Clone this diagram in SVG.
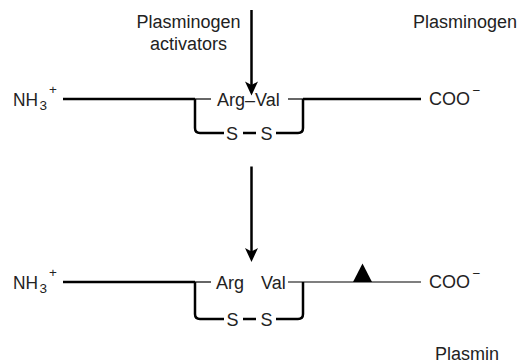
<svg xmlns="http://www.w3.org/2000/svg" width="521" height="364" viewBox="0 0 521 364">
<style>
text{font-family:"Liberation Sans",Arial,sans-serif;font-size:18px;fill:#222}
.sm{font-size:13.5px}
.thick{stroke:#000;stroke-width:2.5;fill:none}
.thin{stroke:#000;stroke-width:1.2;fill:none}
.head{fill:#000}
</style>
<g id="labels">
<text x="188.5" y="28" text-anchor="middle">Plasminogen</text>
<text x="188.5" y="50" text-anchor="middle">activators</text>
<text x="413" y="28">Plasminogen</text>
<text x="435" y="359.5">Plasmin</text>
</g>
<g id="plasminogen">
<text x="13" y="106" textLength="25" lengthAdjust="spacingAndGlyphs">NH</text><text class="sm" x="39.5" y="110">3</text><text class="sm" x="49" y="94">+</text>
<path class="thick" d="M63 99H195"/>
<path class="thin" d="M195 99H211"/>
<text x="217" y="106">Arg–Val</text>
<path class="thin" d="M288 99H303"/>
<path class="thick" d="M303 99H421"/>
<text x="429" y="105">COO</text><text class="sm" x="472.5" y="94.5">−</text>
<path class="thick" d="M195 99V128Q195 133 200 133H224M243 133H256M276 133H298Q303 133 303 128V99"/>
<text x="232" y="139.5" text-anchor="middle">S</text>
<text x="266.5" y="139.5" text-anchor="middle">S</text>
</g>
<g id="plasmin">
<text x="13" y="289" textLength="25" lengthAdjust="spacingAndGlyphs">NH</text><text class="sm" x="39.5" y="293">3</text><text class="sm" x="49" y="277">+</text>
<path class="thick" d="M63 282H195"/>
<path class="thin" d="M195 282H211"/>
<text x="216" y="289">Arg</text>
<text x="261" y="289">Val</text>
<path class="thin" d="M288 282H421"/>
<polygon class="head" points="353,282 362.5,263.5 372,282"/>
<text x="429" y="288">COO</text><text class="sm" x="472.5" y="277.5">−</text>
<path class="thick" d="M195 282V314Q195 319 200 319H224M243 319H256M276 319H298Q303 319 303 314V282"/>
<text x="232.5" y="325.5" text-anchor="middle">S</text>
<text x="266.5" y="325.5" text-anchor="middle">S</text>
</g>
<g id="connectors">
<path class="thick" d="M251.5 10V86"/>
<polygon class="head" points="251.5,95.5 245,81.5 251.5,85 258,81.5"/>
<path class="thick" d="M251.5 166.5V252"/>
<polygon class="head" points="251.5,262 245,248 251.5,251.5 258,248"/>
</g>
</svg>
